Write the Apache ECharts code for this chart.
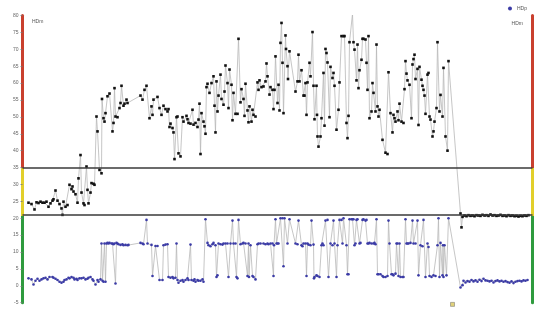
<!DOCTYPE html>
<html>
<head>
<meta charset="utf-8">
<script src="https://cdn.jsdelivr.net/npm/echarts@6/dist/echarts.min.js"></script>
<style>
html,body{margin:0;padding:0;background:#fff;}
#chart{width:536px;height:315px;}
</style>
</head>
<body>
<div id="chart"></div>
<script>
// ---- data ----
const yMin = -5, yMax = 80, yStep = 5;
const tMin = 0, tMax = 510;
const thresholds = [35, 21];

// upper series (black): [time, value]
const hdmPoints = [
[6,24.6],[9,24.2],[12,22.6],[14,24.7],[16,24.5],[18,24.9],[20,24.6],[22,24.6],[24,24.9],[26,23.4],[28,24.4],[30,25.2],[31,25.6],[33,28.2],[35,25.2],[37,24.2],[39,22.9],[40,21.0],[41,24.9],[43,23.4],[45,23.9],[47,29.9],[49,28.6],[50,29.4],[51,27.9],[53,27.1],[55,24.6],[56,31.8],[58,38.7],[59,27.6],[61,24.4],[62,23.9],[64,35.3],[65,28.4],[66,24.4],[68,27.6],[69,30.4],[71,30.2],[72,29.9],[74,50.1],[75,45.7],[77,34.3],[79,33.3],[79.5,55.3],[81,49.6],[82,48.6],[83,51.1],[85,56.1],[87,56.9],[90,45.7],[91,48.2],[92,58.5],[93,50.1],[95,49.9],[97,52.6],[98,54.1],[99,59.2],[101,53.3],[102,53.9],[104,55.1],[105,54.1],[118,56.3],[120,55.1],[122,58.0],[124,59.2],[127,49.6],[129,53.1],[130,50.6],[131,55.1],
[135,55.9],[137,52.6],[139,50.6],[141,53.3],[143,52.3],[145,51.6],[146,52.3],[147,47.0],[148,48.0],[150,46.7],[151,45.4],[152,37.5],[154,49.9],[155,50.1],[156,39.2],[158,38.3],[160,49.9],[161,48.6],[164,50.3],[165,49.3],[166,48.2],[168,48.0],[170,52.1],[171,47.7],[173,48.2],[175,47.0],[176,49.2],[177,53.9],[178,39.0],[179,51.1],[181,48.6],[182,47.2],[183,45.0],[184,58.8],[185,59.8],[187,57.1],[189,60.0],[191,62.0],[192,53.3],[193,45.4],[194,60.5],[195,51.6],[196,56.3],[198,62.5],[199,55.3],[201,53.6],[202,57.5],[203,65.2],[205,60.0],[206,52.6],[207,64.0],[209,59.5],[210,49.0],[211,57.1],[213,50.9],[215,50.9],[216,73.1],[218,54.3],[219,58.2],[221,55.3],[222,50.3],[223,59.8],[225,51.9],[226,48.4],[227,53.1],[229,48.6],[230,52.1],[231,50.6],[233,50.1],[235,60.2],[236,58.0],[237,60.8],[239,58.8],[241,59.0],[243,60.5],[244,65.8],[245,62.0],[247,56.6],[248,58.8],[250,58.0],[251,52.3],[252,58.0],[253,67.9],[255,54.1],[256,59.5],[257,51.9],[258,71.9],[259,77.8],[260,66.0],[261,51.1],
[263,74.1],[263.5,70.1],[265,65.0],[265.5,61.2],[267,69.4],[273,57.5],[275,60.5],[276,68.4],[277,60.5],[279,63.8],[281,56.3],[282,56.3],[283,60.0],[284,50.6],[285,60.2],[287,66.0],[288,62.0],[290,75.1],[291,59.2],[292,49.3],[294,59.2],[294.5,50.6],[295,44.2],[296,41.2],[298,44.2],[299,49.6],[301,63.0],[302,47.4],[303,70.1],[304,68.9],[305,66.1],[307,49.9],[308,64.8],[310,61.5],[311,63.0],[312,59.2],[314,46.2],[316,52.1],[317,60.2],[319,73.9],[321,73.9],[322,73.9],[324,48.2],[325,43.7],[326,50.3],[327,72.1],[330,80.5],[331,72.1],[332,69.9],[334,60.8],[335,71.4],[336,58.5],[337,63.8],[339,66.9],[340,73.1],[341,73.1],[343,72.9],[344,66.0],[345,58.0],[346,73.9],[347,49.6],[349,51.6],[350,60.0],[351,57.1],[353,51.6],[354,71.4],[355,53.1],[356,50.1],[357,52.1],[360,43.2],[363,39.4],[365,39.0],[366,63.2],[368,51.1],[370,45.4],[371,50.6],[372,49.6],[373,48.6],[375,51.6],[376,49.0],[377,53.9],[379,48.6],[381,48.2],[382,58.2],[383,66.5],[384,62.8],[385,60.8],[387,59.5],[389,49.6],[390,65.5],[391,67.1],
[392,68.4],[393,61.2],[395,64.2],[396,47.6],[397,64.8],[399,61.0],[400,59.2],[401,58.0],[402,56.3],[403,50.9],[405,62.5],[406,63.0],[407,50.1],[408,49.2],[410,44.2],[411,45.7],[412,48.6],[414,52.6],[415,72.1],[417,51.6],[418,56.5],[420,50.1],[421,64.5],[423,44.2],[425,40.0],[426,66.5],[438,21.4],[439,17.3],[440,20.4],
[442,20.8],[444,20.6],[446,20.9],[448,20.7],[450,20.8],[452,20.6],[454,20.9],[456,20.8],[458,20.7],[460,21.0],[462,20.8],[464,20.9],[466,20.7],[468,21.1],[470,20.8],[472,20.9],[474,20.7],[476,20.8],[478,21.0],[480,20.7],[482,20.8],[484,20.6],[486,20.9],[488,20.7],[490,20.8],[492,20.6],[494,20.7],[496,20.5],[498,20.7],[500,20.6],[502,20.8],[504,20.7],[506,20.9]
];

// lower series (blue): [time, value]
const hdpPoints = [
[6,2.2],[9,1.9],[11,0.4],[13,1.5],[15,2.1],[17,1.5],[19,1.9],[21,2.2],[23,2.4],[25,1.9],[27,2.6],[30,2.6],[31,2.4],[33,2.1],[35,1.7],[37,1.2],[39,0.9],[41,1.2],[42,1.7],[44,1.9],[46,2.4],[47,2.2],[49,2.6],[51,2.4],[52,1.9],[54,2.1],[55,1.7],[57,2.2],[59,2.2],[61,2.4],[63,1.9],[65,2.1],[66,2.4],[68,2.6],[70,1.9],[71,1.5],[73,0.4],[75,1.7],[76,1.2],[78,1.9],[79,12.5],[80,1.5],[81,1.2],[82,12.5],[83,1.2],[84,12.5],[85,12.7],[86,12.5],[87,12.7],[89,12.5],[90,12.5],[91,12.3],[92,12.5],[93,0.7],[94,12.7],[95,12.5],[96,12.3],[98,12.1],[100,12.3],[101,12.0],[103,12.1],[105,12.0],[106,12.1],[118,12.7],[120,12.5],[121,12.3],[124,19.5],[125,12.5],[129,12.1],[130,2.9],
[133,11.8],[135,11.8],[137,1.7],[140,1.7],[141,12.0],[143,12.2],[145,12.3],[146,2.6],[148,2.4],[150,2.6],[151,2.2],[153,2.4],[154,12.5],[155,1.7],[156,0.9],[158,1.5],[160,1.7],[161,1.2],[163,1.7],[165,2.2],[166,1.7],[168,12.2],[169,1.7],[171,1.5],[172,1.9],[173,1.2],[175,1.7],[176,1.5],[178,1.5],[180,1.9],[181,1.2],[183,19.7],[185,12.7],[186,12.0],[188,11.7],[190,12.3],[191,12.7],[193,12.0],[194,2.6],[195,3.1],[196,12.5],[198,12.3],[200,12.2],[201,12.5],[203,12.5],[205,12.5],[206,2.6],[208,12.5],[210,19.3],[211,12.5],[213,12.5],[214,2.6],[215,2.2],[216,19.5],[218,12.3],[220,12.5],[221,12.7],[223,12.5],[225,2.9],[226,12.5],[226.5,2.6],[228,12.0],[230,2.9],[231,2.6],[233,1.9],[235,12.3],[236,12.5],[238,12.5],[241,12.5],[243,12.3],[245,12.5],[246,12.3],[248,12.5],[250,12.5],[251,2.9],[251.5,12.0],[253,19.7],[254,12.5],[255,12.5],[256,12.5],[258,20.0],[260,20.0],[261,5.8],[262,20.0],
[265,12.5],[267,19.7],[273,12.5],[275,12.3],[276,19.3],[279,12.0],[280,11.7],[281,12.5],[283,12.5],[284,2.9],[285,12.5],[286,12.2],[288,12.0],[289,19.3],[291,12.2],[291.5,2.2],[292,2.6],[294,3.1],[295,2.9],[297,2.6],[299,12.0],[300,12.5],[301,12.0],[303,19.3],[305,19.5],[306,2.6],[308,12.5],[310,12.0],[311,19.3],[312,12.5],[314,2.6],[315,12.0],[317,19.5],[319,19.5],[320,12.5],[321,20.0],[324,12.0],[325,3.4],[326,3.4],[327,19.7],[329,19.7],[330,19.7],[331,19.7],[332,12.0],[333,12.5],[334,19.5],[335,19.7],[337,12.5],[338,12.7],[340,19.5],[341,19.7],[343,19.3],[344,19.5],[345,12.5],[346,12.5],[347,12.7],[349,12.5],[351,12.5],[352,12.7],[353,12.3],[354,19.7],[355,3.4],[356,3.4],[358,3.4],[360,2.9],[361,2.6],[363,2.6],[365,2.9],[366,19.3],[367,12.5],[369,3.4],[370,3.4],[371,3.1],[373,3.6],[374,12.5],[375,12.5],[376,2.9],[377,12.5],[378,2.6],[380,2.6],[381,2.6],[383,19.7],[384,12.5],[385,12.5],[386,12.5],[388,12.7],[390,19.3],[391,12.5],
[393,12.5],[395,19.3],[396,3.1],[398,12.0],[400,11.7],[401,19.5],[403,2.6],[405,12.5],[406,11.5],[407,2.9],[409,2.6],[411,3.1],[413,2.9],[415,12.0],[416,20.0],[417,2.6],[418,12.7],[420,3.1],[420.5,12.0],[421,2.6],[422,12.0],[424,3.1],[426,20.0],[438,-0.5],[440,0.2],
[441,1.5],[443,1.0],[445,1.4],[447,1.2],[449,1.7],[451,1.3],[453,1.6],[455,1.2],[457,1.8],[459,1.4],[461,2.1],[463,1.6],[465,1.5],[467,1.3],[469,1.5],[471,1.0],[473,1.4],[475,1.6],[477,1.3],[479,1.5],[481,1.2],[483,1.4],[485,1.1],[487,0.9],[489,1.3],[491,0.8],[493,1.2],[495,1.4],[497,1.5],[499,1.3],[501,1.6],[503,1.5],[505,1.7]
];

// single event marker
const eventPoints = [[430, -5.5]];

// ---- chart ----
const zoneRed = '#c9402e', zoneYellow = '#e2cf2a', zoneGreen = '#2f9b3e';
const f1 = (yMax - thresholds[0]) / (yMax - yMin);
const f2 = (yMax - thresholds[1]) / (yMax - yMin);
function zoneGradient() {
  return new echarts.graphic.LinearGradient(0, 0, 0, 1, [
    {offset: 0, color: zoneRed}, {offset: f1, color: zoneRed},
    {offset: f1, color: zoneYellow}, {offset: f2, color: zoneYellow},
    {offset: f2, color: zoneGreen}, {offset: 1, color: zoneGreen}
  ]);
}

const chart = echarts.init(document.getElementById('chart'), null, {renderer: 'canvas'});
const smallText = {fontSize: 5, color: '#555', fontWeight: 'normal', fontFamily: 'Liberation Sans, Arial, sans-serif'};

chart.setOption({
  animation: false,
  backgroundColor: '#fff',
  title: [
    {text: 'HDm', left: 27, top: 14, textStyle: smallText},
    {text: 'HDm', right: 8, top: 16, textStyle: smallText}
  ],
  legend: {
    data: ['HDp'], right: 9, top: 6, icon: 'circle', itemWidth: 4, itemHeight: 4, itemGap: 2,
    textStyle: smallText, padding: 0
  },
  grid: {left: 22.5, right: 3.5, top: 15.5, bottom: 12.3, containLabel: false},
  xAxis: {type: 'value', min: tMin, max: tMax, show: false},
  yAxis: [
    {
      type: 'value', min: yMin, max: yMax, interval: yStep, position: 'left',
      axisLine: {show: true, lineStyle: {color: zoneGradient(), width: 3}},
      axisTick: {show: true, length: 2, lineStyle: {color: '#777', width: 0.8}},
      axisLabel: {fontSize: 5, color: '#666', margin: 4, fontFamily: 'Liberation Sans, Arial, sans-serif'},
      splitLine: {show: false}
    },
    {
      type: 'value', min: yMin, max: yMax, interval: yStep, position: 'right',
      axisLine: {show: true, lineStyle: {color: zoneGradient(), width: 3}},
      axisTick: {show: false}, axisLabel: {show: false}, splitLine: {show: false}
    }
  ],
  series: [
    {
      name: 'HDm', type: 'line', data: hdmPoints,
      symbol: 'rect', symbolSize: 2.6, showSymbol: true,
      lineStyle: {color: '#b8b8b8', width: 0.8},
      itemStyle: {color: '#111'},
      markLine: {
        silent: true, symbol: 'none', label: {show: false},
        lineStyle: {color: '#3a3a3a', width: 1.6, type: 'solid'},
        data: thresholds.map(v => ({yAxis: v}))
      },
      z: 3
    },
    {
      name: 'HDp', type: 'line', data: hdpPoints,
      symbol: 'circle', symbolSize: 2.6, showSymbol: true,
      lineStyle: {color: '#b8b8b8', width: 0.8},
      itemStyle: {color: '#3b3ba6'},
      z: 3
    },
    {
      name: 'event', type: 'scatter', data: eventPoints, clip: false,
      symbol: 'rect', symbolSize: 4,
      itemStyle: {color: '#d9c75a', borderColor: '#666', borderWidth: 0.6},
      z: 4
    }
  ]
});
</script>
</body>
</html>
